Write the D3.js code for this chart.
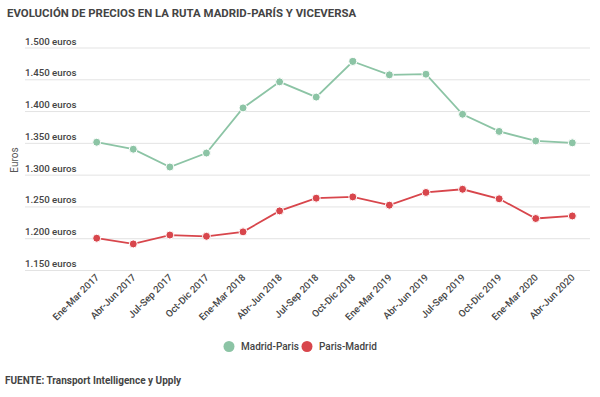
<!DOCTYPE html>
<html>
<head>
<meta charset="utf-8">
<script src="https://cdn.jsdelivr.net/npm/d3@7"></script>
<style>
  body { margin: 0; background: #fff; font-family: Roboto, sans-serif; }
  .grid line { stroke: #e3e3e3; }
  .grid .domain { display: none; }
  .tick-label { font-size: 9.7px; font-weight: 500; fill: #444; }
</style>
</head>
<body>
<script>
var periods = ["Ene-Mar 2017", "Abr-Jun 2017", "Jul-Sep 2017", "Oct-Dic 2017",
  "Ene-Mar 2018", "Abr-Jun 2018", "Jul-Sep 2018", "Oct-Dic 2018",
  "Ene-Mar 2019", "Abr-Jun 2019", "Jul-Sep 2019", "Oct-Dic 2019",
  "Ene-Mar 2020", "Abr-Jun 2020"];
var madridParis = [1351, 1340, 1312, 1334, 1405, 1446, 1422, 1478, 1457, 1458, 1395, 1368, 1353, 1350];
var parisMadrid = [1200, 1191, 1205, 1203, 1210, 1243, 1263, 1265, 1252, 1272, 1277, 1262, 1231, 1235];
var yTicks = [1150, 1200, 1250, 1300, 1350, 1400, 1450, 1500];
var seriesNames = ["Madrid-Paris", "Paris-Madrid"];
var colors = ["#8cc4a5", "#d8464c"];

var width = 600, height = 397;

var svg = d3.select("body").append("svg")
    .attr("width", width)
    .attr("height", height);

// title
svg.append("text")
    .attr("x", 7).attr("y", 17)
    .style("font-size", "11.4px").style("font-weight", "bold").style("fill", "#444")
    .text("EVOLUCIÓN DE PRECIOS EN LA RUTA MADRID-PARÍS Y VICEVERSA");

var x = d3.scaleBand()
    .domain(periods)
    .range([78.4, 590.6]);

var y = d3.scaleLinear()
    .domain([1150, 1500])
    .range([270, 47.5]);

// gridlines
svg.append("g")
    .attr("class", "grid")
    .attr("transform", "translate(25,0)")
    .call(d3.axisRight(y).tickValues(yTicks).tickSize(565).tickFormat(""));

// y tick labels above the gridlines
svg.append("g").selectAll("text")
    .data(yTicks)
  .enter().append("text")
    .attr("class", "tick-label")
    .attr("x", 25)
    .attr("y", function(d) { return y(d) - 3; })
    .text(function(d) { return d3.format(",")(d).replace(",", ".") + " euros"; });

// y axis title
svg.append("text")
    .attr("transform", "translate(18,160) rotate(-90)")
    .attr("text-anchor", "middle")
    .style("font-size", "10px").style("fill", "#555")
    .text("Euros");

// x labels
svg.append("g").selectAll("text")
    .data(periods)
  .enter().append("text")
    .attr("class", "tick-label")
    .attr("text-anchor", "end")
    .attr("transform", function(d) {
      return "translate(" + (x(d) + x.bandwidth() / 2 + 3) + ",278) rotate(-45)";
    })
    .text(function(d) { return d; });

var line = d3.line()
    .x(function(d, i) { return x(periods[i]) + x.bandwidth() / 2; })
    .y(function(d) { return y(d); });

[madridParis, parisMadrid].forEach(function(vals, k) {
  svg.append("path")
      .datum(vals)
      .attr("fill", "none")
      .attr("stroke", colors[k])
      .attr("stroke-width", 1.8)
      .attr("d", line);

  svg.append("g").selectAll("circle")
      .data(vals)
    .enter().append("circle")
      .attr("cx", function(d, i) { return x(periods[i]) + x.bandwidth() / 2; })
      .attr("cy", function(d) { return y(d); })
      .attr("r", 4)
      .attr("fill", colors[k])
      .attr("stroke", "#fff")
      .attr("stroke-width", 1);
});

// legend
var legendX = [229, 307];
var legend = svg.append("g").selectAll("g")
    .data(seriesNames)
  .enter().append("g")
    .attr("transform", function(d, i) { return "translate(" + legendX[i] + ",346.5)"; });

legend.append("circle")
    .attr("r", 5.5)
    .attr("fill", function(d, i) { return colors[i]; });

legend.append("text")
    .attr("x", 12)
    .attr("y", 3.5)
    .style("font-size", "10px").style("font-weight", "500").style("fill", "#444")
    .text(function(d) { return d; });

// source
svg.append("text")
    .attr("x", 5).attr("y", 384)
    .style("font-size", "10px").style("font-weight", "bold").style("fill", "#444")
    .text("FUENTE: Transport Intelligence y Upply");
</script>
</body>
</html>
